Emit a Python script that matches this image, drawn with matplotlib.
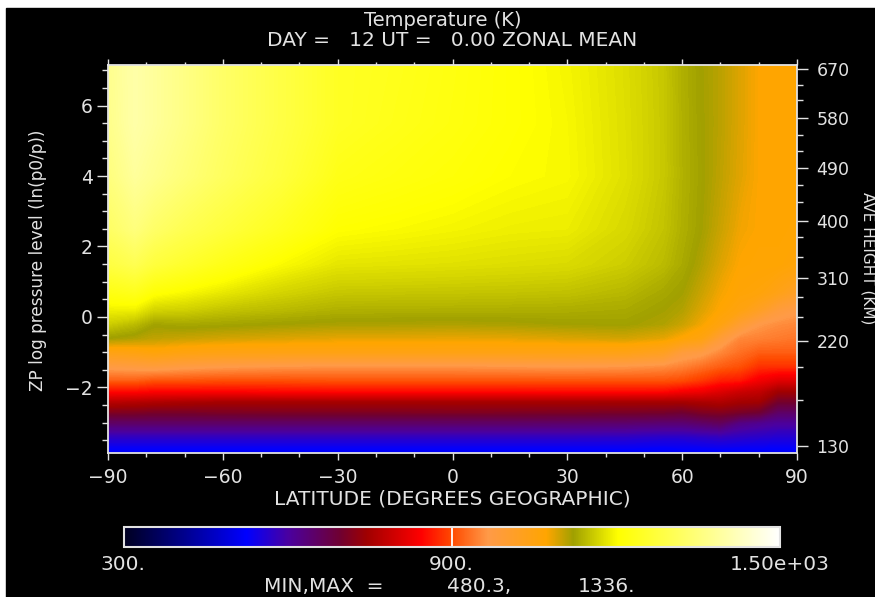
import numpy as np
import matplotlib
matplotlib.use("Agg")
import matplotlib.pyplot as plt
from matplotlib.colors import LinearSegmentedColormap, Normalize
from matplotlib.cm import ScalarMappable
from matplotlib.patches import Rectangle

W, H = 875, 597
FG = "#e2e2e2"

latitudes = [-90, -83, -78, -70, -60, -45, -30, -15, 0, 15, 30, 45, 55, 60, 65, 70, 75, 80, 85, 90]
levels_zp = [-3.86, -3.4, -3.0, -2.7, -2.4, -2.1, -1.8, -1.4, -1.0, -0.6, -0.2, 0.2, 0.7, 1.5, 2.5, 4.0, 5.5, 7.15]
# Temperature (K) per latitude, bottom level to top level, estimated from the colours
temp_by_lat = [
    [510, 572, 650, 712, 770, 850, 915, 975, 1045, 1120, 1160, 1190, 1225, 1280, 1320, 1350, 1365, 1370],
    [510, 572, 650, 710, 765, 850, 915, 980, 1050, 1112, 1145, 1190, 1235, 1300, 1350, 1385, 1400, 1400],
    [510, 572, 650, 705, 760, 845, 905, 985, 1060, 1105, 1124, 1165, 1210, 1275, 1325, 1370, 1385, 1385],
    [510, 572, 650, 705, 755, 845, 905, 975, 1050, 1100, 1128, 1162, 1198, 1255, 1300, 1345, 1360, 1360],
    [510, 572, 650, 708, 750, 845, 902, 968, 1045, 1095, 1125, 1152, 1184, 1230, 1275, 1315, 1325, 1325],
    [510, 572, 650, 710, 750, 848, 902, 962, 1045, 1090, 1120, 1144, 1166, 1200, 1240, 1275, 1285, 1285],
    [510, 572, 650, 710, 750, 850, 905, 960, 1045, 1085, 1116, 1136, 1155, 1182, 1205, 1230, 1245, 1245],
    [510, 572, 650, 710, 750, 850, 905, 960, 1045, 1085, 1115, 1135, 1154, 1180, 1200, 1220, 1232, 1235],
    [510, 572, 650, 712, 750, 850, 905, 960, 1045, 1083, 1114, 1135, 1153, 1178, 1195, 1212, 1220, 1222],
    [510, 572, 650, 710, 750, 850, 905, 962, 1045, 1085, 1116, 1134, 1152, 1175, 1190, 1203, 1208, 1208],
    [510, 572, 648, 708, 750, 852, 905, 965, 1045, 1090, 1120, 1133, 1150, 1172, 1188, 1198, 1197, 1195],
    [510, 570, 645, 705, 750, 852, 905, 962, 1042, 1095, 1122, 1130, 1142, 1160, 1170, 1177, 1176, 1175],
    [510, 565, 640, 702, 750, 850, 905, 955, 1025, 1085, 1113, 1120, 1128, 1145, 1152, 1156, 1156, 1155],
    [512, 565, 640, 695, 750, 838, 900, 945, 985, 1068, 1100, 1112, 1120, 1130, 1135, 1137, 1136, 1135],
    [512, 570, 650, 710, 755, 830, 885, 930, 975, 1050, 1078, 1090, 1100, 1112, 1120, 1122, 1121, 1120],
    [512, 575, 660, 715, 760, 810, 865, 915, 950, 990, 1050, 1070, 1078, 1090, 1100, 1106, 1108, 1108],
    [512, 570, 625, 705, 748, 790, 860, 905, 930, 950, 1000, 1050, 1065, 1072, 1080, 1088, 1090, 1090],
    [512, 565, 615, 695, 745, 780, 830, 880, 915, 945, 966, 1020, 1060, 1070, 1072, 1073, 1073, 1073],
    [512, 560, 605, 650, 700, 745, 810, 880, 915, 940, 955, 985, 1040, 1070, 1072, 1072, 1072, 1072],
    [512, 560, 605, 650, 700, 745, 810, 880, 915, 935, 950, 970, 1015, 1060, 1070, 1072, 1072, 1072],
]

cbar_stops = [300, 524, 600, 696, 744, 844, 900, 966, 1073, 1122, 1204, 1356, 1500]
cbar_colors = ["#000020", "#0000ff", "#4a00a0", "#700030", "#a00000", "#ff0000", "#ff4a00",
               "#ff9a48", "#ffa500", "#a0a000", "#ffff00", "#ffff80", "#ffffff"]

left_major = [-2, 0, 2, 4, 6]
left_minor = [-3.5, -3, -2.5, -1.5, -1, -0.5, 0.5, 1, 1.5, 2.5, 3, 3.5, 4.5, 5, 5.5, 6.5, 7]
bottom_major = [-90, -60, -30, 0, 30, 60, 90]
bottom_minor = [-80, -70, -50, -40, -20, -10, 10, 20, 40, 50, 70, 80]
height_labels = ["130", "220", "310", "400", "490", "580", "670"]
height_zp = [-3.66, -0.68, 1.11, 2.73, 4.23, 5.65, 7.04]
height_minor_zp = [-2.35, -1.42, 0.0, 0.57, 1.70, 2.27, 3.26, 3.74, 4.71, 5.16, 6.16, 6.58]

plt.rcParams["font.family"] = "DejaVu Sans"
fig = plt.figure(figsize=(W / 100, H / 100), dpi=100, facecolor="white")
fig.add_artist(Rectangle((6 / W, 0), 1, 1 - 8 / H, transform=fig.transFigure, color="black", zorder=-5))


def box(x0, y0, x1, y1):
    return [x0 / W, 1 - y1 / H, (x1 - x0) / W, (y1 - y0) / H]


def label(x, y, s, ha="center", size=13.5, rotation=0):
    fig.text(x / W, 1 - y / H, s, color=FG, fontsize=size, ha=ha, va="center", rotation=rotation)


cmap = LinearSegmentedColormap.from_list(
    "temp", [((s - 300) / 1200, c) for s, c in zip(cbar_stops, cbar_colors)], N=1024)
norm = Normalize(300, 1500)

ax = fig.add_axes(box(108, 65, 797, 453), facecolor="black")
T = np.array(temp_by_lat, dtype=float).T
cs = ax.contourf(latitudes, levels_zp, T, levels=np.arange(300, 1502, 3), cmap=cmap, norm=norm,
                 antialiased=False)
ax.set_xlim(-90, 90)
ax.set_ylim(-3.86, 7.15)

for s in ax.spines.values():
    s.set_color(FG)
    s.set_linewidth(1.3)

ax.set_xticks(bottom_major)
ax.set_xticks(bottom_minor, minor=True)
ax.set_xticklabels(["\u221290", "\u221260", "\u221230", "0", "30", "60", "90"])
ax.set_yticks(left_major)
ax.set_yticks(left_minor, minor=True)
ax.set_yticklabels(["\u22122", "0", "2", "4", "6"])
ax.tick_params(axis="x", which="major", length=5, width=1, color=FG, labelcolor=FG, labelsize=13.5, pad=6)
ax.tick_params(axis="x", which="minor", length=3, width=1, color=FG)
ax.tick_params(axis="y", which="major", length=8, width=1, color=FG, labelcolor=FG, labelsize=13.5, pad=3)
ax.tick_params(axis="y", which="minor", length=4, width=1, color=FG)

top = ax.secondary_xaxis("top")
top.set_xticks(bottom_major, labels=[])
top.set_xticks(bottom_minor, minor=True)
top.tick_params(axis="x", which="major", length=4, width=1, color=FG)
top.tick_params(axis="x", which="minor", length=2.5, width=1, color=FG)
top.spines["top"].set_visible(False)

right = ax.secondary_yaxis("right")
right.set_yticks(height_zp, labels=height_labels)
right.set_yticks(height_minor_zp, minor=True)
right.tick_params(axis="y", which="major", length=8, width=1, color=FG, labelcolor=FG, labelsize=12.5, pad=6)
right.tick_params(axis="y", which="minor", length=4, width=1, color=FG)
right.spines["right"].set_visible(False)

cax = fig.add_axes(box(124, 527, 780, 547))
cb = fig.colorbar(ScalarMappable(norm=norm, cmap=cmap), cax=cax, orientation="horizontal")
cb.set_ticks([])
cb.outline.set_edgecolor(FG)
cb.outline.set_linewidth(1.5)
cax.axvline(900, color="white", lw=1.3)

label(443, 20, "Temperature (K)", size=14)
label(452, 41, "DAY =   12 UT =   0.00 ZONAL MEAN", size=14.5)
label(452, 499, "LATITUDE (DEGREES GEOGRAPHIC)", size=14.5)
label(38, 260, "ZP log pressure level (ln(p0/p))", rotation=90, size=12.2)
label(868, 258, "AVE HEIGHT (KM)", rotation=-90, size=11)
label(123, 565, "300.", size=14.5)
label(451, 565, "900.", size=14.5)
label(780, 565, "1.50e+03", size=14.5)
label(324, 587, "MIN,MAX  =", size=14.5)
label(479, 587, "480.3,", size=14.5)
label(607, 587, "1336.", size=14.5)

fig.savefig("out.png", dpi=100, facecolor="white")
